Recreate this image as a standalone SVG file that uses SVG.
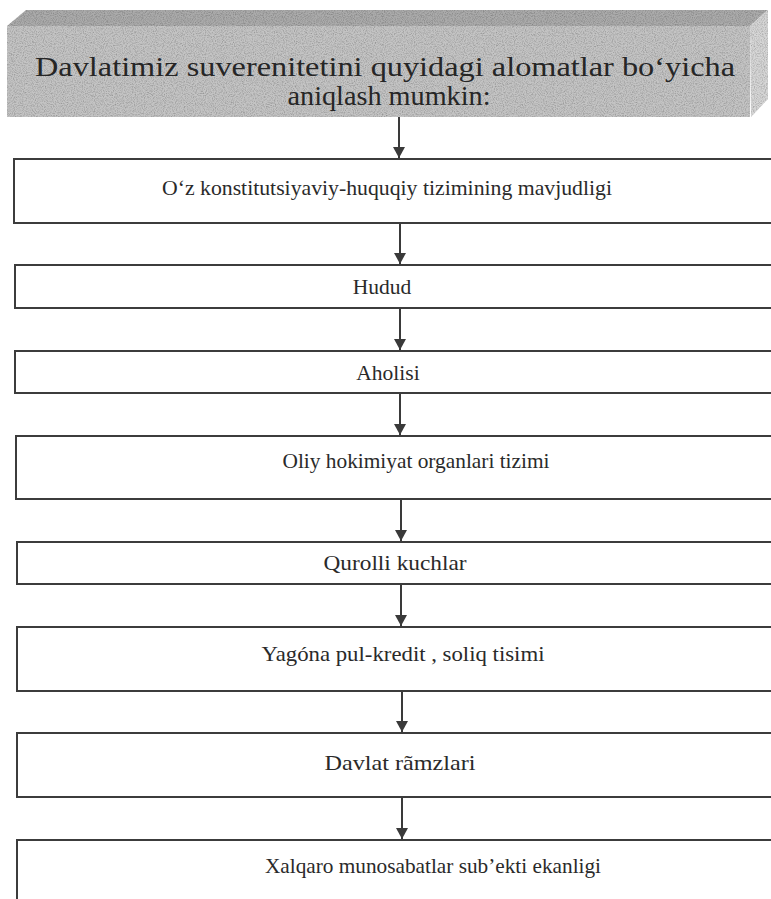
<svg xmlns="http://www.w3.org/2000/svg" width="771" height="899" viewBox="0 0 771 899">
<defs>
<style>
.box{fill:#ffffff;stroke:#3c3c3c;stroke-width:2}
.lbl{font-family:"Liberation Serif","Times New Roman",serif;font-size:21.5px;fill:#2a2a2a;text-anchor:middle}
.hdr{font-family:"Liberation Serif","Times New Roman",serif;font-size:28px;fill:#262626;text-anchor:middle}
.conn line{stroke:#3a3a3a;stroke-width:2}
</style>
<marker id="ah" viewBox="0 0 12 13" refX="12" refY="6.5" markerWidth="13" markerHeight="12" markerUnits="userSpaceOnUse" orient="auto">
<path d="M0,0 L12,6.5 L0,13 Z" fill="#3a3a3a"/>
</marker>
<filter id="grain" x="0" y="0" width="100%" height="100%">
<feTurbulence type="fractalNoise" baseFrequency="0.9" numOctaves="2" seed="3" result="n"/>
<feColorMatrix in="n" type="matrix" values="0 0 0 0 0  0 0 0 0 0  0 0 0 0 0  0 0 0 -0.9 0.55" result="a"/>
<feComposite in="a" in2="SourceGraphic" operator="in" result="d"/>
<feMerge><feMergeNode in="SourceGraphic"/><feMergeNode in="d"/></feMerge>
</filter>
</defs>
<rect width="771" height="899" fill="#ffffff"/>
<g id="header">
<polygon points="7,26 26,10 768,10 750,26" fill="#ababab" filter="url(#grain)"/>
<polygon points="750,26 768,10 768,99 751,117" fill="#d6d6d6" filter="url(#grain)"/>
<rect x="7" y="26" width="743" height="91" fill="#c4c4c4" filter="url(#grain)"/>
<text class="hdr" x="385" y="76" textLength="700" lengthAdjust="spacingAndGlyphs">Davlatimiz suverenitetini quyidagi alomatlar bo‘yicha</text>
<text class="hdr" x="389" y="105" textLength="203" lengthAdjust="spacingAndGlyphs">aniqlash mumkin:</text>
</g>
<g id="n1"><rect class="box" x="14" y="159" width="780" height="64"/><text class="lbl" x="387" y="195" textLength="450" lengthAdjust="spacingAndGlyphs">O‘z  konstitutsiyaviy-huquqiy tizimining mavjudligi</text></g>
<g id="n2"><rect class="box" x="15" y="265" width="780" height="43"/><text class="lbl" x="382" y="294">Hudud</text></g>
<g id="n3"><rect class="box" x="15" y="351" width="780" height="42"/><text class="lbl" x="388" y="380">Aholisi</text></g>
<g id="n4"><rect class="box" x="16" y="436" width="780" height="63"/><text class="lbl" x="416" y="468" textLength="267" lengthAdjust="spacingAndGlyphs">Oliy  hokimiyat  organlari tizimi</text></g>
<g id="n5"><rect class="box" x="17" y="542" width="780" height="42"/><text class="lbl" x="395" y="570" textLength="143" lengthAdjust="spacingAndGlyphs">Qurolli kuchlar</text></g>
<g id="n6"><rect class="box" x="17" y="627" width="780" height="64"/><text class="lbl" x="403" y="661" textLength="283" lengthAdjust="spacingAndGlyphs">Yagóna pul-kredit , soliq tisimi</text></g>
<g id="n7"><rect class="box" x="17" y="733" width="780" height="64"/><text class="lbl" x="400" y="770" textLength="151" lengthAdjust="spacingAndGlyphs">Davlat rãmzlari</text></g>
<g id="n8"><rect class="box" x="17" y="840" width="780" height="80"/><text class="lbl" x="433" y="873" textLength="336" lengthAdjust="spacingAndGlyphs">Xalqaro munosabatlar sub’ekti ekanligi</text></g>
<g id="connectors" class="conn">
<line x1="399" y1="117" x2="399" y2="158" marker-end="url(#ah)"/>
<line x1="400" y1="224" x2="400" y2="264" marker-end="url(#ah)"/>
<line x1="400" y1="309" x2="400" y2="350" marker-end="url(#ah)"/>
<line x1="400" y1="394" x2="400" y2="435" marker-end="url(#ah)"/>
<line x1="401" y1="500" x2="401" y2="541" marker-end="url(#ah)"/>
<line x1="401" y1="585" x2="401" y2="626" marker-end="url(#ah)"/>
<line x1="402" y1="692" x2="402" y2="732" marker-end="url(#ah)"/>
<line x1="402" y1="798" x2="402" y2="839" marker-end="url(#ah)"/>
</g>
</svg>
